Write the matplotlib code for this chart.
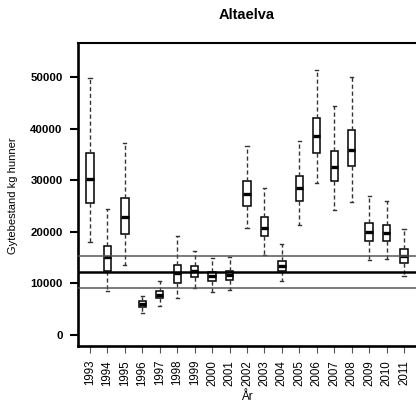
import matplotlib
matplotlib.use("Agg")
import matplotlib.pyplot as plt

plt.rcParams['font.family'] = ['Liberation Sans', 'DejaVu Sans']

years = [1993, 1994, 1995, 1996, 1997, 1998, 1999, 2000, 2001, 2002,
         2003, 2004, 2005, 2006, 2007, 2008, 2009, 2010, 2011]
whislo = [18000, 8550, 13540, 4220, 5500, 7190, 9070, 8230, 8610, 20730,
          15550, 10360, 21380, 29480, 24160, 25780, 14570, 14710, 11330]
q1 = [25600, 12400, 19630, 5380, 7050, 10050, 11210, 10360, 10560, 25070,
      19100, 12440, 26040, 35310, 29930, 32710, 18130, 18270, 13930]
med = [30300, 15100, 22800, 5960, 7710, 11990, 12300, 11330, 11530, 27340,
       20730, 13410, 28440, 38540, 32590, 35820, 19880, 19760, 15220]
q3 = [35300, 17200, 26560, 6470, 8410, 13600, 13270, 12180, 12300, 29800,
      22800, 14380, 30760, 42040, 35760, 39700, 21700, 21240, 16650]
whishi = [49950, 24500, 37250, 7580, 10490, 19100, 16190, 14900, 15030, 36600,
          28500, 17620, 37560, 51360, 44370, 50070, 26880, 25900, 20600]
ref_lines = [15340, 12290, 9180]
y_ticks = [0, 10000, 20000, 30000, 40000, 50000]

title = "Altaelva"
xlabel = "År"
ylabel = "Gytebestand kg hunner"

fig = plt.figure(figsize=(4.16, 4.03), dpi=100)
ax = fig.add_axes([78/416, 57/403, 338/416, 303/403])

stats = []
for i in range(len(years)):
    stats.append(dict(whislo=whislo[i], q1=q1[i], med=med[i], q3=q3[i],
                      whishi=whishi[i], fliers=[], label=str(years[i])))

pos = list(range(1, len(years) + 1))
ax.bxp(stats, positions=pos, widths=0.42, capwidths=0.18, patch_artist=True,
       showfliers=False,
       boxprops=dict(facecolor='white', edgecolor='black', linewidth=1.1),
       medianprops=dict(color='black', linewidth=2.4),
       whiskerprops=dict(color='#333333', linewidth=1.0, linestyle=(0, (3, 2))),
       capprops=dict(color='#333333', linewidth=1.0))

ax.axhline(ref_lines[0], color='#555555', linewidth=1.1, zorder=5)
ax.axhline(ref_lines[1], color='black', linewidth=1.8, zorder=5)
ax.axhline(ref_lines[2], color='#555555', linewidth=1.1, zorder=5)

ax.set_xlim(0.31, 19.69)
ax.set_ylim(-2180, 56680)

ax.set_xticks(pos)
ax.set_xticklabels([str(y) for y in years], rotation=90, fontsize=8.3)
ax.set_yticks(y_ticks)
ax.set_yticklabels([str(v) for v in y_ticks], fontsize=8.2, fontweight='bold')

ax.tick_params(axis='x', direction='out', length=5, width=0.8, color='#555555', pad=5)
ax.tick_params(axis='y', direction='out', length=6, width=1.5, color='black', pad=5)

for s in ['left', 'bottom', 'top']:
    ax.spines[s].set_linewidth(1.9)
ax.spines['top'].set_linewidth(1.5)
ax.spines['right'].set_visible(False)

fig.text(13/416, 1 - 196/403, ylabel, rotation=90, va='center', ha='center', fontsize=8)
fig.text(247/416, 5.5/403, xlabel, va='center', ha='center', fontsize=8.5)
fig.text(247/416, 1 - 15/403, title, va='center', ha='center', fontsize=10.5, fontweight='bold')

fig.savefig("out.png", dpi=100)
